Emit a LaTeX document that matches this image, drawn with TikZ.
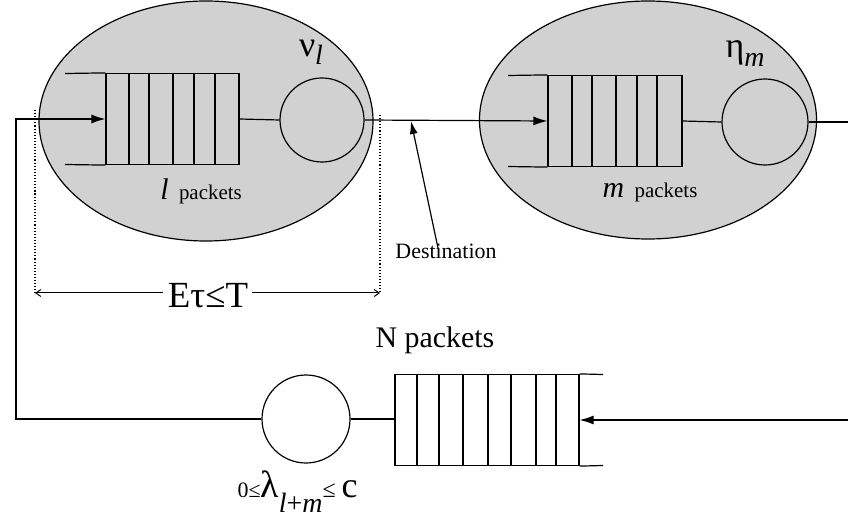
\documentclass[tikz,border=0pt]{standalone}
\usepackage{fontspec}
\setmainfont{Liberation Serif}
\usetikzlibrary{shapes.geometric,arrows.meta}
\newcommand{\sz}[1]{\fontsize{#1}{#1}\selectfont}
\begin{document}
\begin{tikzpicture}[x=1bp,y=-1bp,line width=1.2bp,
  zone/.style={draw,ellipse,fill=black!18,inner sep=0pt},
  qbox/.style={draw,rectangle,inner sep=0pt,minimum height=91bp},
  srv/.style={draw,circle,inner sep=0pt},
  tip/.style={-{Latex[length=14bp,width=9bp]}},
  dim/.style={{Straight Barb[length=5bp,width=7bp]}-},
  lbl/.style={inner sep=0pt}]
\useasboundingbox (0,0) rectangle (848,522);
% zones
\node[zone,minimum width=334bp,minimum height=240bp] (L) at (206,121) {};
\node[zone,minimum width=337bp,minimum height=238bp] (R) at (648,120) {};
% top-left queue
\node[qbox,minimum width=133bp] (q1) at (172.5,119) {};
\draw (65,73.5) -- (q1.north west) (65,164.5) -- (q1.south west);
\foreach \x in {129,149,173,194,215} \draw (\x,73.5) -- (\x,164.5);
\node[srv,minimum size=84bp] (c1) at (322,120) {};
\draw (q1.east) -- (c1.west);
% top-right queue
\node[qbox,minimum width=134bp] (q2) at (615,121) {};
\draw (508,75.5) -- (q2.north west) (508,166.5) -- (q2.south west);
\foreach \x in {572,592,616,637,657} \draw (\x,75.5) -- (\x,166.5);
\node[srv,minimum size=86bp] (c2) at (765,122) {};
\draw (q2.east) -- (c2.west);
\draw[tip] (c1.east) -- (q2.west);
\coordinate (rout) at (848,122);
\draw (c2.east) -- (rout);
% bottom queue
\node[qbox,minimum width=184bp,fill=white] (q3) at (487,420) {};
\draw (q3.north east) -- (603,374.5) (q3.south east) -- (603,465.5);
\foreach \x in {417,439,463,488,511,536,556} \draw (\x,374.5) -- (\x,465.5);
\node[srv,minimum size=88bp,fill=white] (c3) at (306,419) {};
\draw (c3.east) -- (c3.east -| q3.west);
\coordinate (rin) at (848,420);
\draw[tip] (rin) -- (q3.east);
% feedback
\coordinate (fb) at (16,119);
\draw[tip] (c3.west) -| (fb) -- (q1.west);
% labels in zones
\node[lbl] (nu) at (311,52) {\sz{36}ν\raisebox{-8bp}{\sz{28}\itshape l}};
\node[lbl] (eta) at (745,54) {\sz{36}η\raisebox{-9bp}{\sz{28}\itshape m}};
\node[lbl] (lp) at (201,191) {\sz{30}\itshape l\sz{21}\upshape\ \ packets};
\node[lbl] (mp) at (650,192) {\sz{30}\itshape m\sz{21}\upshape\ \ packets};
% destination
\node[lbl] (dest) at (446,251) {\sz{22}Destination};
\coordinate (dst) at (411,121);
\draw[-{Latex[length=13bp,width=8bp]}] ([xshift=-8bp,yshift=-5bp]dest.north) -- (dst);
% delay bound
\coordinate (dtl) at (35,110);
\coordinate (dtr) at (380,115);
\coordinate (dl) at (35,293);
\coordinate (dr) at (380,293);
\draw[dotted,line width=1.1bp] (dtl) -- (dl);
\draw[dotted,line width=1.1bp] (dtr) -- (dr);
\node[lbl] (eq) at (208,296) {\sz{37}Eτ≤T};
\draw[dim,line width=1bp] (dl) -- ([xshift=-4bp]eq.west |- dl);
\draw[dim,line width=1bp] (dr) -- ([xshift=3bp]eq.east |- dr);
% bottom labels
\node[lbl] (np) at (435,340) {\sz{30}N packets};
\node[lbl,anchor=base west] (lam) at (237,497) {\sz{22}0≤\sz{38}λ\raisebox{-15bp}{\sz{28}\itshape l\upshape +\itshape m}\sz{24}\upshape≤\ \sz{36}c};
\end{tikzpicture}
\end{document}
